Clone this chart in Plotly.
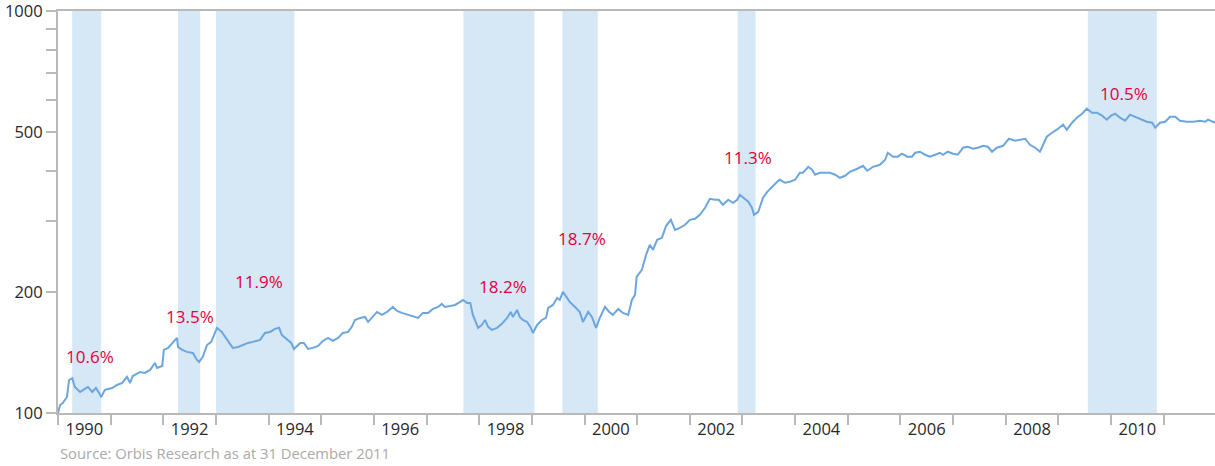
import numpy as np
import plotly.graph_objects as go

# ---- data ----
years = [
    1990.00, 1990.04, 1990.09, 1990.17, 1990.21, 1990.27, 1990.32, 1990.42, 1990.51, 1990.57,
    1990.65, 1990.72, 1990.78, 1990.82, 1990.89, 1991.03, 1991.12, 1991.22, 1991.31, 1991.37,
    1991.42, 1991.56, 1991.65, 1991.75, 1991.84, 1991.88, 1991.98, 1992.01, 1992.09, 1992.18,
    1992.26, 1992.28, 1992.36, 1992.45, 1992.56, 1992.64, 1992.68, 1992.75, 1992.83, 1992.91,
    1992.98, 1993.02, 1993.11, 1993.21, 1993.32, 1993.42, 1993.51, 1993.61, 1993.70, 1993.84,
    1993.93, 1994.03, 1994.12, 1994.20, 1994.25, 1994.35, 1994.43, 1994.48, 1994.56,
    1994.60, 1994.67, 1994.75, 1994.84, 1994.94, 1995.03, 1995.13, 1995.22, 1995.32, 1995.41,
    1995.51, 1995.58, 1995.64, 1995.74, 1995.83, 1995.89, 1995.98, 1996.06, 1996.15, 1996.25,
    1996.36, 1996.44, 1996.53, 1996.65, 1996.74, 1996.84, 1996.93, 1997.03, 1997.12, 1997.22,
    1997.29, 1997.35, 1997.45, 1997.54, 1997.64, 1997.69, 1997.77, 1997.83, 1997.88, 1997.92,
    1997.98, 1998.05, 1998.11, 1998.17, 1998.24, 1998.34, 1998.43, 1998.53, 1998.60, 1998.64,
    1998.72, 1998.77, 1998.83, 1998.91, 1998.98, 1999.02, 1999.10, 1999.19, 1999.27, 1999.31,
    1999.40, 1999.48,
    1999.53, 1999.59, 1999.67, 1999.72, 1999.82, 1999.91, 1999.97, 2000.07, 2000.14, 2000.22,
    2000.29, 2000.39, 2000.47, 2000.54, 2000.64, 2000.73, 2000.83, 2000.90, 2000.96, 2000.99,
    2001.09, 2001.17, 2001.24, 2001.30, 2001.38, 2001.47, 2001.55, 2001.64, 2001.72, 2001.81,
    2001.91, 2002.00, 2002.10, 2002.19, 2002.29, 2002.38, 2002.48, 2002.55, 2002.63, 2002.73,
    2002.82, 2002.90, 2002.95, 2003.05, 2003.11, 2003.18, 2003.22, 2003.30, 2003.39, 2003.47,
    2003.56, 2003.66,
    2003.71, 2003.81, 2003.90, 2004.00, 2004.09, 2004.15, 2004.25, 2004.32, 2004.38, 2004.47,
    2004.57, 2004.66, 2004.76, 2004.85, 2004.95, 2005.04, 2005.18, 2005.29, 2005.37, 2005.48,
    2005.61, 2005.71, 2005.76, 2005.86, 2005.95, 2006.03, 2006.13, 2006.22, 2006.28, 2006.37,
    2006.47, 2006.56, 2006.66, 2006.75, 2006.81, 2006.90, 2007.00, 2007.09, 2007.19, 2007.28,
    2007.38, 2007.47, 2007.57, 2007.66, 2007.74, 2007.83,
    2007.95, 2008.06, 2008.18, 2008.31, 2008.37, 2008.46, 2008.56, 2008.65, 2008.71, 2008.78,
    2008.88, 2008.97, 2009.09, 2009.16, 2009.26, 2009.35, 2009.45, 2009.54, 2009.64, 2009.73,
    2009.83, 2009.92, 2010.00, 2010.08, 2010.17, 2010.27, 2010.36, 2010.49, 2010.59, 2010.68,
    2010.78, 2010.84, 2010.93, 2011.03, 2011.12, 2011.22, 2011.31, 2011.44, 2011.56, 2011.69,
    2011.79, 2011.84, 2011.98,
]
values = [
    100.0, 104.7, 105.9, 109.6, 120.8, 122.1, 116.1, 112.8, 114.8, 116.1,
    112.8, 115.4, 112.2, 109.6, 114.2, 115.4, 117.4, 118.8, 123.0, 118.8,
    123.6, 126.5, 125.8, 128.0, 133.2, 129.4, 130.9, 143.5, 145.2, 149.4,
    153.8, 146.0, 143.5, 141.9, 141.1, 135.5, 134.0, 137.9, 147.6, 150.3,
    159.1, 162.9, 159.1, 152.0, 145.2, 146.0, 147.6, 149.4, 150.3, 152.0,
    158.2, 159.1, 161.9, 162.9, 156.4, 152.0, 149.4, 144.3, 147.6,
    149.4, 149.4, 144.3, 145.2, 146.8, 151.1, 153.8, 151.1, 153.8, 158.2,
    159.1, 163.8, 170.4, 172.4, 173.4, 168.5, 173.4, 178.4, 175.4, 178.4,
    183.6, 179.5, 177.4, 175.4, 174.4, 172.4, 177.4, 177.4, 181.5, 183.6,
    186.8, 183.6, 184.6, 185.7, 189.0, 191.1, 187.9, 187.9, 175.4, 170.4,
    162.9, 165.6, 170.4, 163.8, 161.0, 162.9, 166.6, 172.4, 178.4, 173.4,
    180.5, 173.4, 170.4, 168.5, 162.9, 158.2, 165.6, 170.4, 172.4, 182.6,
    185.7, 193.3,
    191.1, 200.1, 193.3, 189.0, 183.6, 178.4, 168.5, 178.4, 173.4, 162.9,
    172.4, 183.6, 178.4, 175.4, 181.5, 177.4, 175.4, 191.1, 196.7, 218.1,
    227.0, 247.4, 262.0, 254.6, 269.6, 272.7, 292.2, 302.4, 285.5, 288.8,
    293.9, 302.4, 304.1, 311.2, 324.0, 341.1, 339.2, 339.2, 329.6, 339.2,
    333.4, 339.2, 349.0, 339.2, 335.3, 324.0, 311.2, 316.6, 343.1, 355.0,
    365.4, 376.0,
    380.3, 373.9, 376.0, 380.3, 395.9, 395.9, 409.7, 402.8, 391.4, 395.9,
    395.9, 395.9, 391.4, 384.7, 389.1, 398.2, 405.1, 412.0, 400.5, 409.7,
    414.5, 426.5, 444.0, 434.1, 434.1, 441.5, 434.1, 434.1, 444.0, 446.6,
    439.0, 434.1, 439.0, 444.0, 439.0, 446.6, 441.5, 439.0, 456.9, 459.5,
    454.3, 456.9, 462.1, 459.5, 446.6, 456.9,
    462.1, 481.1, 475.7, 478.4, 481.1, 464.8, 456.9, 446.6, 464.8, 486.7,
    498.0, 506.6, 521.4, 506.6, 527.4, 542.7, 555.3, 571.7, 558.5, 558.5,
    549.0, 536.6, 549.0, 555.3, 542.7, 533.4, 552.2, 542.7, 536.6, 530.4,
    527.4, 512.5, 527.4, 530.4, 545.8, 545.8, 533.4, 530.4, 530.4, 533.4,
    530.4, 536.6, 527.4,
]

period_starts = [1990.27, 1992.28, 1993.00, 1997.70, 1999.58, 2002.91, 2009.56]
period_ends = [1990.82, 1992.70, 1994.49, 1999.05, 2000.25, 2003.25, 2010.87]

label_texts = ["10.6%", "13.5%", "11.9%", "18.2%", "18.7%", "11.3%", "10.5%"]
label_x = [1990.61, 1992.51, 1993.82, 1998.46, 1999.96, 2003.10, 2010.25]
label_y = [138, 174, 212, 206, 272, 433, 622]

year_ticks = list(range(1990, 2012))
label_years = list(range(1990, 2011, 2))

y_tickvals = [100, 200, 300, 400, 500, 600, 700, 800, 900, 1000]
y_ticktext = ["100", "200", "", "", "500", "", "", "", "", "1000"]

source_text = "Source: Orbis Research as at 31 December 2011"

# ---- styling ----
LINE = "rgb(108,166,222)"
SHADE = "rgb(214,231,245)"
RED = "rgb(227,0,59)"
AXIS = "rgb(185,185,185)"
FONT = "Open Sans"
TICKFONT = dict(family=FONT, size=16.5, color="rgb(40,40,40)")

fig = go.Figure()
fig.add_trace(go.Scatter(
    x=years, y=values, mode="lines",
    line=dict(color=LINE, width=2), hoverinfo="skip", showlegend=False,
))

for s, e in zip(period_starts, period_ends):
    fig.add_shape(type="rect", xref="x", yref="paper", x0=s, x1=e, y0=0, y1=1,
                  fillcolor=SHADE, line=dict(width=0), layer="below")

for t, x, y in zip(label_texts, label_x, label_y):
    fig.add_annotation(x=x, y=np.log10(y), text=t, showarrow=False,
                       font=dict(family=FONT, size=17, color=RED),
                       xanchor="center", yanchor="middle")

fig.add_annotation(xref="paper", yref="paper", x=0, y=-0.0995, text=source_text,
                   showarrow=False, xanchor="left", yanchor="middle",
                   font=dict(family=FONT, size=14.8, color="rgb(170,170,170)"))

fig.update_layout(
    width=1215, height=466,
    margin=dict(l=58, r=0, t=11, b=53),
    plot_bgcolor="white", paper_bgcolor="white",
    font=dict(family=FONT, size=15, color="rgb(40,40,40)"),
    xaxis=dict(
        range=[1990, 2011.975], showgrid=False, zeroline=False,
        showline=True, linecolor=AXIS, linewidth=2, mirror=True,
        tickmode="array", tickvals=[y + 0.5 for y in label_years],
        ticktext=[str(y) for y in label_years], ticks="",
        minor=dict(tickmode="array", tickvals=year_ticks, ticks="outside",
                   ticklen=10, tickwidth=1.5, tickcolor=AXIS, showgrid=False),
        tickfont=TICKFONT, ticklabeloverflow="allow",
    ),
    yaxis=dict(
        type="log", range=[2, 3], showgrid=False, zeroline=False,
        showline=True, linecolor=AXIS, linewidth=2,
        tickmode="array", tickvals=y_tickvals, ticktext=y_ticktext,
        ticks="outside", ticklen=10, tickwidth=1.5, tickcolor=AXIS,
        tickfont=TICKFONT, ticklabeloverflow="allow",
    ),
)

fig.write_html("out.html", config={"displayModeBar": False})

# remove the browser's default page margin so the figure sits at the window origin
with open("out.html", "r", encoding="utf-8") as f:
    html = f.read()
html = html.replace("<head>", "<head><style>html,body{margin:0;padding:0;overflow:hidden;}</style>", 1)
with open("out.html", "w", encoding="utf-8") as f:
    f.write(html)
